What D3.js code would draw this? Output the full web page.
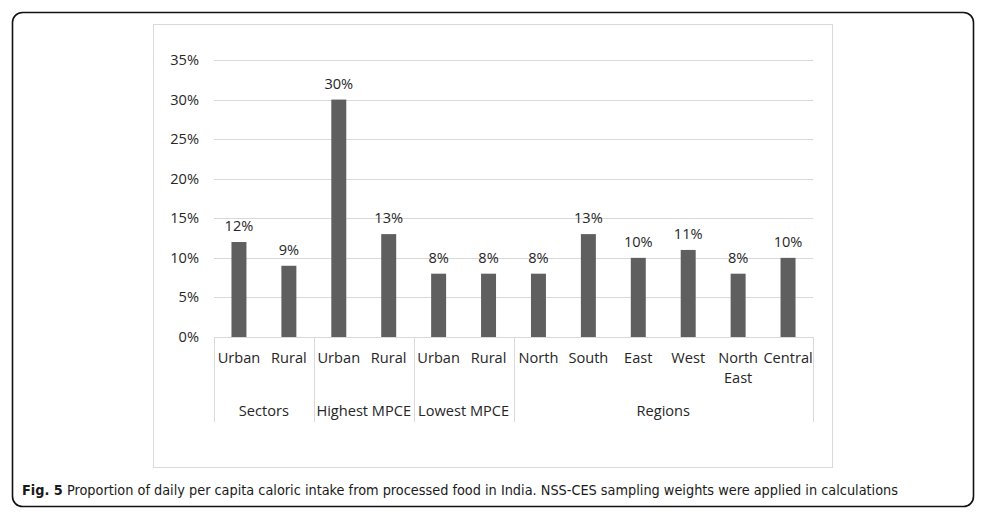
<!DOCTYPE html>
<html>
<head>
<meta charset="utf-8">
<script src="https://cdn.jsdelivr.net/npm/d3@7"></script>
<style>
  body { margin: 0; background: #fff; }
  svg text { font-family: "Open Sans", "Liberation Sans", sans-serif; }
</style>
</head>
<body>
<div id="chart"></div>
<script>
// data
const groups = ["Sectors", "Highest MPCE", "Lowest MPCE", "Regions"];
const categories = ["Urban", "Rural", "Urban", "Rural", "Urban", "Rural",
  "North", "South", "East", "West", "North East", "Central"];
const categoryGroup = [0, 0, 1, 1, 2, 2, 3, 3, 3, 3, 3, 3];
const values = [12, 9, 30, 13, 8, 8, 8, 13, 10, 11, 8, 10];
const yTicks = [0, 5, 10, 15, 20, 25, 30, 35];

const width = 987, height = 519;
const plot = { left: 214, right: 813, top: 60, bottom: 337 };
const fs = 14.6;

const svg = d3.select("#chart").append("svg")
  .attr("width", width).attr("height", height);

// outer figure frame
svg.append("rect")
  .attr("x", 12.5).attr("y", 12.5).attr("width", 961).attr("height", 494)
  .attr("rx", 10).attr("fill", "none").attr("stroke", "#111").attr("stroke-width", 1.6);

// chart area border
svg.append("rect")
  .attr("x", 153.5).attr("y", 24.5).attr("width", 679).attr("height", 443)
  .attr("fill", "#fff").attr("stroke", "#d9d9d9");

const x = d3.scaleBand()
  .domain(d3.range(categories.length))
  .range([plot.left, plot.right])
  .paddingInner(0.7).paddingOuter(0.35);

const y = d3.scaleLinear().domain([0, 35]).range([plot.bottom, plot.top]);

// gridlines
svg.append("g")
  .selectAll("line")
  .data(yTicks.filter((d) => d > 0))
  .join("line")
  .attr("x1", plot.left).attr("x2", plot.right)
  .attr("y1", (d) => Math.round(y(d)) + 0.5).attr("y2", (d) => Math.round(y(d)) + 0.5)
  .attr("stroke", "#d9d9d9");

// y axis labels
svg.append("g")
  .selectAll("text")
  .data(yTicks)
  .join("text")
  .attr("x", 199).attr("y", (d) => y(d) + 5)
  .attr("text-anchor", "end")
  .attr("font-size", fs).attr("fill", "#262626")
  .text((d) => d + "%");

// bars
svg.append("g")
  .selectAll("rect")
  .data(values)
  .join("rect")
  .attr("x", (d, i) => x(i)).attr("width", x.bandwidth())
  .attr("y", (d) => y(d)).attr("height", (d) => y(0) - y(d))
  .attr("fill", "#5f5f5f");

// value labels
svg.append("g")
  .selectAll("text")
  .data(values)
  .join("text")
  .attr("x", (d, i) => x(i) + x.bandwidth() / 2)
  .attr("y", (d) => y(d) - 11)
  .attr("text-anchor", "middle")
  .attr("font-size", fs).attr("fill", "#262626")
  .text((d) => d + "%");

// multi-level category axis
const bandW = (plot.right - plot.left) / categories.length;
const bandLeft = (i) => plot.left + i * bandW;

svg.append("line")
  .attr("x1", plot.left).attr("x2", plot.right)
  .attr("y1", plot.bottom + 0.5).attr("y2", plot.bottom + 0.5)
  .attr("stroke", "#d9d9d9");

const groupStart = groups.map((g, gi) => categoryGroup.indexOf(gi));
const groupEnd = groups.map((g, gi) => categoryGroup.lastIndexOf(gi) + 1);
const seps = groupStart.concat([categories.length]);

svg.append("g")
  .selectAll("line")
  .data(seps)
  .join("line")
  .attr("x1", (d) => Math.round(bandLeft(d)) + 0.5)
  .attr("x2", (d) => Math.round(bandLeft(d)) + 0.5)
  .attr("y1", plot.bottom).attr("y2", 422)
  .attr("stroke", "#d9d9d9");

const catText = svg.append("g")
  .selectAll("text")
  .data(categories)
  .join("text")
  .attr("x", (d, i) => bandLeft(i) + bandW / 2)
  .attr("y", 363)
  .attr("text-anchor", "middle")
  .attr("font-size", fs).attr("fill", "#262626");

catText.selectAll("tspan")
  .data((d) => d.split(" "))
  .join("tspan")
  .attr("x", function () { return this.parentNode.getAttribute("x"); })
  .attr("dy", (d, i) => (i === 0 ? 0 : 20))
  .text((d) => d);

svg.append("g")
  .selectAll("text")
  .data(groups)
  .join("text")
  .attr("x", (d, i) => (bandLeft(groupStart[i]) + bandLeft(groupEnd[i])) / 2)
  .attr("y", 416)
  .attr("text-anchor", "middle")
  .attr("font-size", fs).attr("fill", "#262626")
  .text((d) => d);

// caption
const caption = svg.append("text")
  .attr("x", 22).attr("y", 495)
  .attr("font-size", 14).attr("fill", "#1a1a1a")
  .attr("textLength", 876).attr("lengthAdjust", "spacingAndGlyphs")
  .style("font-family", "'Liberation Sans Narrow', 'DejaVu Sans Condensed', 'Liberation Sans', sans-serif");
caption.append("tspan").attr("font-weight", "bold").text("Fig. 5");
caption.append("tspan").text(" Proportion of daily per capita caloric intake from processed food in India. NSS-CES sampling weights were applied in calculations");
</script>
</body>
</html>
